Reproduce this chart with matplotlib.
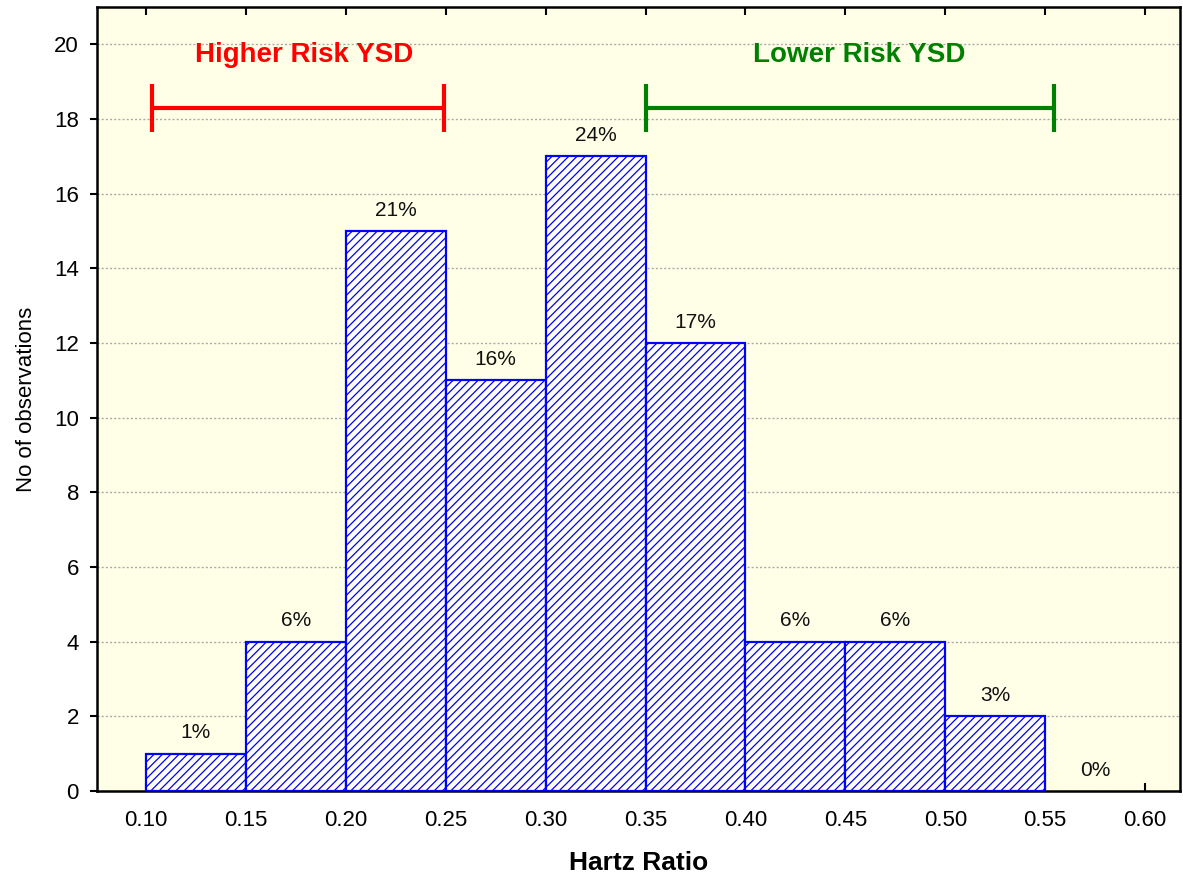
import matplotlib
matplotlib.use("Agg")
import matplotlib.pyplot as plt
import numpy as np

bin_edges = [0.10, 0.15, 0.20, 0.25, 0.30, 0.35, 0.40, 0.45, 0.50, 0.55, 0.60]
counts = [1, 4, 15, 11, 17, 12, 4, 4, 2, 0]
pct_labels = ["1%", "6%", "21%", "16%", "24%", "17%", "6%", "6%", "3%", "0%"]
xticks = [0.10, 0.15, 0.20, 0.25, 0.30, 0.35, 0.40, 0.45, 0.50, 0.55, 0.60]
yticks = [0, 2, 4, 6, 8, 10, 12, 14, 16, 18, 20]
higher_range = (0.103, 0.249)
lower_range = (0.35, 0.5545)
range_y = 18.3

plt.rcParams['font.family'] = ['Liberation Sans', 'DejaVu Sans']
plt.rcParams['hatch.linewidth'] = 0.9
plt.rcParams['hatch.color'] = '#0000FF'

fig = plt.figure(figsize=(11.83, 8.82), dpi=100)
ax = fig.add_axes([0.082, 0.1032, 0.9155, 0.889])
ax.set_facecolor('#FFFFE8')

lefts = np.array(bin_edges[:-1])
widths = np.diff(bin_edges)
nz = np.array(counts) > 0
ax.bar(lefts[nz], np.array(counts)[nz], width=widths[nz], align='edge', facecolor='#FFFFF4',
       edgecolor='#0000FF', linewidth=1.6, hatch='////', zorder=3)

for x, w, c, lab in zip(lefts, widths, counts, pct_labels):
    ax.text(x + w / 2, c + 0.3, lab, ha='center', va='bottom', fontsize=15, color='#111111', zorder=4)

ax.set_xlim(0.0755, 0.6175)
ax.set_ylim(0, 21)
ax.set_xticks(xticks)
ax.set_xticklabels([f"{t:.2f}" for t in xticks])
ax.set_yticks(yticks)
ax.tick_params(axis='x', direction='in', length=6, width=1.5, labelsize=16, pad=14, top=True)
ax.tick_params(axis='y', direction='out', length=5, width=1.5, labelsize=16, pad=8)
ax.yaxis.grid(True, linestyle=(0, (1.5, 1.5)), color='#AAAAAA', linewidth=1.0, zorder=1)
ax.set_axisbelow(True)
for s in ax.spines.values():
    s.set_linewidth(1.8)
    s.set_color('black')

ax.set_ylabel("No of observations", fontsize=16, labelpad=12)
ax.set_xlabel("Hartz Ratio", fontsize=19, fontweight='bold', labelpad=14)

# range markers
ax.errorbar([(higher_range[0] + higher_range[1]) / 2], [range_y],
            xerr=[[(higher_range[1] - higher_range[0]) / 2]], fmt='none',
            ecolor='#FF0000', elinewidth=3, capsize=17, capthick=3, zorder=5)
ax.errorbar([(lower_range[0] + lower_range[1]) / 2], [range_y],
            xerr=[[(lower_range[1] - lower_range[0]) / 2]], fmt='none',
            ecolor='#008000', elinewidth=3, capsize=17, capthick=3, zorder=5)
ax.text(0.179, 19.7, "Higher Risk YSD", color='#FF0000', fontsize=20,
        fontweight='bold', ha='center', va='center')
ax.text(0.457, 19.7, "Lower Risk YSD", color='#008000', fontsize=20,
        fontweight='bold', ha='center', va='center')

fig.savefig("out.png", dpi=100)
